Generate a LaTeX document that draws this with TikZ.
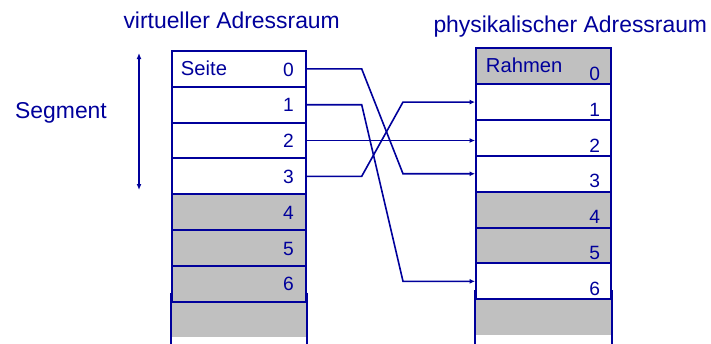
\documentclass[tikz,border=0pt]{standalone}
\usepackage{fontspec}
\setmainfont{Liberation Sans}
\usetikzlibrary{arrows.meta}
\definecolor{navy}{RGB}{0,0,155}
\definecolor{cellgray}{RGB}{192,192,192}
\begin{document}
\begin{tikzpicture}[x=1pt,y=-1pt,
  vcell/.style={draw=navy, line width=1.9pt, minimum width=134.3pt, minimum height=35.8pt, inner sep=0pt, fill=white},
  rcell/.style={draw=navy, line width=1.9pt, minimum width=135pt, minimum height=35.85pt, inner sep=0pt, fill=white},
  grey/.style={fill=cellgray},
  extra/.style={fill=cellgray, draw=none, inner sep=0pt},
  sideline/.style={draw=navy, line width=2.4pt},
  lbl/.style={text=navy, inner sep=0pt, font=\fontsize{19.2}{19}\selectfont},
  word/.style={text=navy, inner sep=0pt, font=\fontsize{20.2}{21}\selectfont},
  title/.style={text=navy, inner sep=0pt, font=\fontsize{22.9}{24}\selectfont},
  conn/.style={draw=navy, line width=1.6pt},
  tip/.style={-{Latex[length=5.5pt,width=5pt]}}
]
\useasboundingbox (0,0) rectangle (711,343);

% titles
\node[title, anchor=base west] (tv) at (123.3,28.3) {virtueller Adressraum};
\node[title, anchor=base west] (tp) at (433.3,32.3) {physikalischer Adressraum};
\node[title, anchor=base west] (seg) at (15,118.3) {Segment};

% extra grey rows (no border)
\node[extra, minimum width=134.3pt, minimum height=35.8pt] (vx) at (238.85,319.5) {};
\node[extra, minimum width=135pt, minimum height=35.85pt] (rx) at (543.5,317.175) {};

% virtual pages
\node[vcell] (v0) at (238.85,68.9) {};
\node[vcell] (v1) at (238.85,104.7) {};
\node[vcell] (v2) at (238.85,140.5) {};
\node[vcell] (v3) at (238.85,176.3) {};
\node[vcell,grey] (v4) at (238.85,212.1) {};
\node[vcell,grey] (v5) at (238.85,247.9) {};
\node[vcell,grey] (v6) at (238.85,283.7) {};

% physical frames
\node[rcell,grey] (r0) at (543.5,66.225) {};
\node[rcell] (r1) at (543.5,102.075) {};
\node[rcell] (r2) at (543.5,137.925) {};
\node[rcell] (r3) at (543.5,173.775) {};
\node[rcell,grey] (r4) at (543.5,209.625) {};
\node[rcell,grey] (r5) at (543.5,245.475) {};
\node[rcell] (r6) at (543.5,281.325) {};

% side lines below
\draw[sideline] ([yshift=10pt]v6.south west) -- ++(0,53);
\draw[sideline] ([yshift=10pt]v6.south east) -- ++(0,53);
\draw[sideline] ([yshift=10pt]r6.south west) -- ++(0,55);
\draw[sideline] ([yshift=10pt]r6.south east) -- ++(0,55);

% labels virtual
\node[word, anchor=base west, xshift=10pt, yshift=-25pt] (ls) at (v0.north west) {Seite};
\foreach \i in {0,...,6}{
  \node[lbl, anchor=base east, xshift=-13pt, yshift=-26pt] (vl\i) at (v\i.north east) {\i};
}
% labels physical
\node[word, anchor=base west, xshift=10.7pt, yshift=-25pt] (lr) at (r0.north west) {Rahmen};
\foreach \i in {0,...,6}{
  \node[lbl, anchor=base east, xshift=-11.7pt, yshift=-33pt] (rl\i) at (r\i.north east) {\i};
}

% bend coordinates
\coordinate (kL) at (361.7,0);
\coordinate (kR) at (403,0);

% connectors
\draw[conn,tip] (v0.east) -- (v0.east -| kL) -- (r3.west -| kR) -- (r3.west);
\draw[conn,tip] (v1.east) -- (v1.east -| kL) -- (r6.west -| kR) -- (r6.west);
\draw[conn,tip] (v2.east) -- (v2.east -| r2.west);
\draw[conn,tip] (v3.east) -- (v3.east -| kL) -- (r1.west -| kR) -- (r1.west);

% segment arrow
\coordinate (sa) at (139,53);
\coordinate (sb) at (139,190);
\draw[conn,{Latex[length=6pt,width=5pt]}-{Latex[length=6pt,width=5pt]}] (sa) -- (sb);
\end{tikzpicture}
\end{document}
